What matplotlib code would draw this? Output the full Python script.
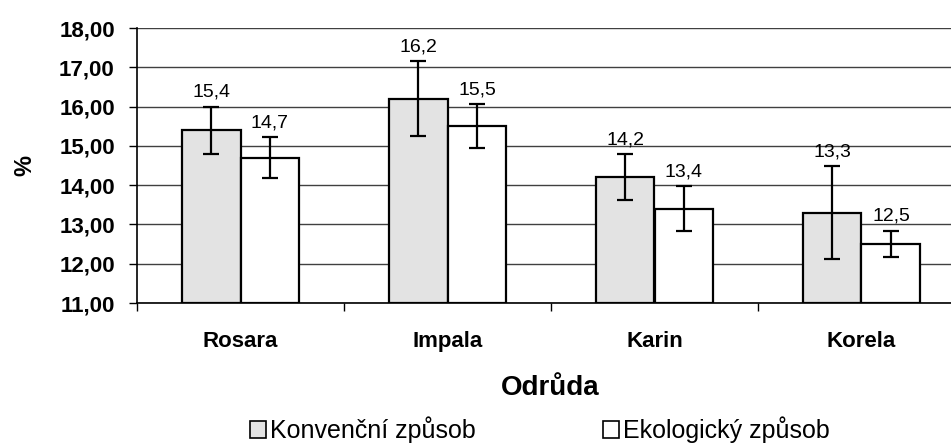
import matplotlib
matplotlib.use("Agg")
import matplotlib.pyplot as plt
import numpy as np
from matplotlib.patches import Patch
import matplotlib.transforms as mtransforms

plt.rcParams['font.family'] = ['Liberation Sans', 'DejaVu Sans']

categories = ["Rosara", "Impala", "Karin", "Korela"]
series_names = ["Konvenční způsob", "Ekologický způsob"]
conv_values = [15.4, 16.2, 14.2, 13.3]
conv_errors = [0.60, 0.95, 0.59, 1.18]
eco_values = [14.7, 15.5, 13.4, 12.5]
eco_errors = [0.53, 0.56, 0.57, 0.34]
y_ticks = [11, 12, 13, 14, 15, 16, 17, 18]
x_label = "Odrůda"
y_label = "%"

W, H = 951, 448
fig = plt.figure(figsize=(W / 100, H / 100), dpi=100)
ax = fig.add_axes([137 / W, 1 - 303 / H, 828 / W, 275 / H])

x = np.arange(len(categories))
bw = 0.285
colors = ["#E3E3E3", "#FFFFFF"]
err_kw = dict(ecolor="black", elinewidth=1.6, capsize=6, capthick=1.6)

for vals, errs, off, col in [(conv_values, conv_errors, -bw / 2, colors[0]),
                             (eco_values, eco_errors, bw / 2, colors[1])]:
    ax.bar(x + off, np.array(vals) - 11, bottom=11, width=bw, color=col,
           edgecolor="black", linewidth=1.6, yerr=errs, error_kw=err_kw, zorder=3)
    for xi, v, e in zip(x + off, vals, errs):
        ax.annotate(f"{v:.1f}".replace(".", ","), (xi, v + e), xytext=(0, 7),
                    textcoords="offset points", ha="center", va="baseline",
                    fontsize=14, zorder=5)

ax.set_xlim(-0.5, len(categories) - 0.5)
ax.set_ylim(11, 18)
ax.set_yticks(y_ticks)
ax.set_yticklabels([f"{t:.2f}".replace(".", ",") for t in y_ticks],
                   fontsize=16, fontweight="bold")
ax.tick_params(axis="y", direction="out", length=6, width=1, pad=10)

ax.set_xticks(np.arange(len(categories) + 1) - 0.5)
ax.set_xticklabels([])
ax.tick_params(axis="x", which="major", direction="out", length=6, width=1)

# category labels, baseline-aligned below the axis
trans = mtransforms.blended_transform_factory(ax.transData, fig.transFigure)
for xi, name in zip(x, categories):
    ax.text(xi, 1 - 347 / H, name, transform=trans, ha="center", va="baseline",
            fontsize=16, fontweight="bold", clip_on=False)

ax.yaxis.grid(True, color="#404040", linewidth=1)
ax.set_axisbelow(True)
for s in ["top", "right"]:
    ax.spines[s].set_visible(False)
ax.spines["left"].set_linewidth(1.2)
ax.spines["bottom"].set_linewidth(1.2)

fig.text(550 / W, 1 - 388 / H, x_label, ha="center", va="center",
         fontsize=20, fontweight="bold")
fig.text(25 / W, 1 - 165 / H, y_label, ha="center", va="center",
         fontsize=17, fontweight="bold", rotation=90)

handles = [Patch(facecolor=colors[0], edgecolor="black", linewidth=1.2),
           Patch(facecolor=colors[1], edgecolor="black", linewidth=1.2)]
fig.legend(handles, series_names, loc="center", ncol=2,
           bbox_to_anchor=(540 / W, 1 - 430 / H), frameon=False, fontsize=18,
           handlelength=0.64, handleheight=0.64, handletextpad=0.16,
           columnspacing=5.1, borderpad=0, borderaxespad=0)

fig.savefig("out.png", dpi=100)
